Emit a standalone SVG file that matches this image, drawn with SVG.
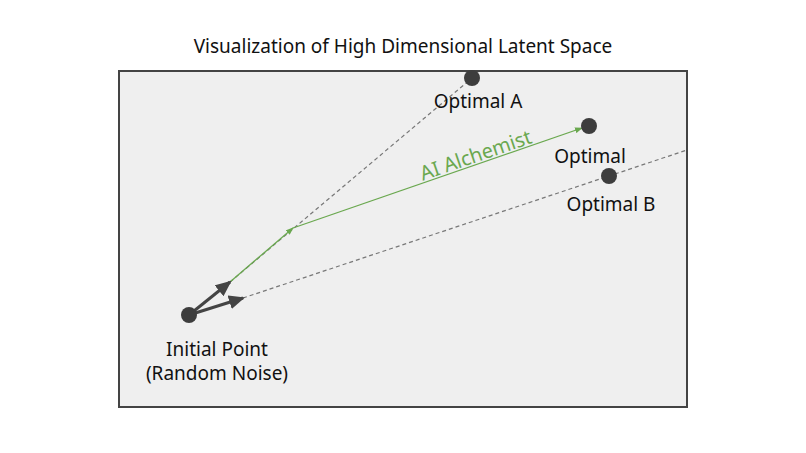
<svg xmlns="http://www.w3.org/2000/svg" width="806" height="453" viewBox="0 0 806 453">
<style>
text{font-family:"Noto Sans",Lato,sans-serif;font-size:19px;fill:#111}
.dot{fill:#3d3d3d}
.dash{stroke:#777;stroke-width:1.2;stroke-dasharray:4 3;fill:none}
.green{stroke:#6aa84f;stroke-width:1.3;fill:none}
</style>
<defs>
<marker id="big" markerWidth="16" markerHeight="14" refX="14" refY="7" orient="auto" markerUnits="userSpaceOnUse"><path d="M0,0L16,7L0,14z" fill="#444"/></marker>
<marker id="gm" markerWidth="8" markerHeight="6" refX="7" refY="3" orient="auto" markerUnits="userSpaceOnUse"><path d="M0,0L8,3L0,6z" fill="#6aa84f"/></marker>
</defs>
<rect width="806" height="453" fill="#fff"/>
<text x="403" y="53" text-anchor="middle">Visualization of High Dimensional Latent Space</text>
<rect x="119" y="71" width="568" height="336" fill="#efefef" stroke="#444" stroke-width="2"/>
<g id="connectors">
<line class="dash" x1="230" y1="282" x2="472" y2="78"/>
<line class="dash" x1="243" y1="298" x2="687" y2="150"/>
<line class="green" x1="230" y1="282" x2="293" y2="228" marker-end="url(#gm)"/>
<line class="green" x1="293" y1="228" x2="582" y2="128" marker-end="url(#gm)"/>
<line x1="189" y1="315" x2="230" y2="282" stroke="#444" stroke-width="3" marker-end="url(#big)"/>
<line x1="189" y1="315" x2="243" y2="298" stroke="#444" stroke-width="3" marker-end="url(#big)"/>
<text x="476" y="162" transform="rotate(-19 476 156)" text-anchor="middle" style="fill:#6aa84f;font-size:20px">AI Alchemist</text>
</g>
<g id="initial"><circle class="dot" cx="189" cy="315" r="8"/>
<text x="217" y="356" text-anchor="middle">Initial Point</text>
<text x="217" y="380" text-anchor="middle">(Random Noise)</text></g>
<g id="optA"><circle class="dot" cx="472" cy="78" r="8"/><text x="478" y="108" text-anchor="middle">Optimal A</text></g>
<g id="opt"><circle class="dot" cx="589" cy="126" r="8"/><text x="590" y="163" text-anchor="middle">Optimal</text></g>
<g id="optB"><circle class="dot" cx="609" cy="176" r="8"/><text x="611" y="211" text-anchor="middle">Optimal B</text></g>
</svg>
